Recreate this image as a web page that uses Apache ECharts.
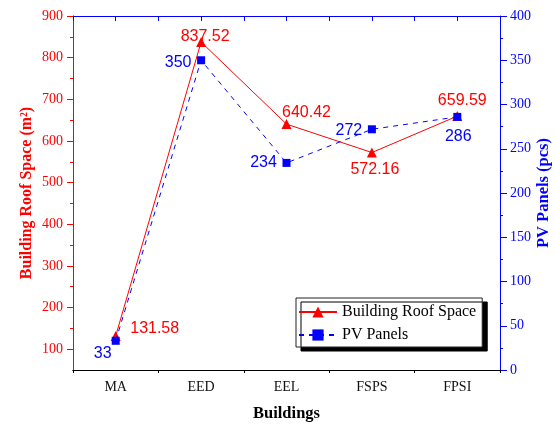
<!DOCTYPE html>
<html>
<head>
<meta charset="utf-8">
<script src="https://cdn.jsdelivr.net/npm/echarts@6/dist/echarts.min.js"></script>
<style>html,body{margin:0;padding:0;background:#fff}#c{width:555px;height:426px}</style>
</head>
<body>
<div id="c"></div>
<script>
var categories = ['MA', 'EED', 'EEL', 'FSPS', 'FPSI'];
var roofSpace = [131.58, 837.52, 640.42, 572.16, 659.59];
var pvPanels = [33, 350, 234, 272, 286];
var leftMajorTicks = [100, 200, 300, 400, 500, 600, 700, 800, 900];
var leftMinorTicks = [150, 250, 350, 450, 550, 650, 750, 850];

var RED = '#ff0000', BLUE = '#0000ff';
var SERIF = '"Liberation Serif","Times New Roman",serif';
var SANS = '"Liberation Sans",Arial,sans-serif';

var roofOffsets = [[39, -7], [4, -5], [20, -12], [3, 17], [5, -16]];
var pvOffsets = [[-13, 13], [-23, 2], [-23, 0], [-23, 1], [1, 20]];

function mkData(vals, offs) {
  return vals.map(function (v, i) {
    return { value: v, label: { offset: offs[i] } };
  });
}

var chart = echarts.init(document.getElementById('c'), null, { renderer: 'canvas' });
chart.setOption({
  animation: false,
  grid: { left: 73, right: 55, top: 16, bottom: 56, containLabel: false, outerBoundsMode: 'none' },
  legend: {
    left: 296, top: 298,
    orient: 'vertical',
    padding: [6, 6, 4, 2],
    itemGap: 7,
    itemWidth: 38,
    itemHeight: 14,
    backgroundColor: '#fff',
    borderColor: '#222',
    borderWidth: 1,
    shadowColor: '#000',
    shadowBlur: 0,
    shadowOffsetX: 5,
    shadowOffsetY: 4,
    textStyle: { fontFamily: SERIF, fontSize: 16, color: '#000' },
    data: ['Building Roof Space', 'PV Panels']
  },
  xAxis: [
    {
      type: 'category', data: categories, position: 'bottom',
      boundaryGap: true,
      name: 'Buildings', nameLocation: 'middle', nameGap: 35, nameMoveOverlap: false,
      nameTextStyle: { fontFamily: SERIF, fontSize: 16.5, fontWeight: 'bold', color: '#000' },
      axisLine: { onZero: false, lineStyle: { color: '#000', width: 1 } },
      axisTick: { alignWithLabel: true, length: 5, lineStyle: { color: '#000' } },
      axisLabel: { fontFamily: SERIF, fontSize: 14, color: '#111', margin: 10 },
      splitLine: { show: false }
    },
    {
      type: 'value', position: 'bottom', min: 0, max: 5, interval: 1,
      axisLine: { show: true, onZero: false, lineStyle: { color: '#000', width: 1 } },
      axisTick: { show: true, inside: false, length: 3, lineStyle: { color: '#000' } },
      axisLabel: { show: false },
      splitLine: { show: false }
    },
    {
      type: 'value', position: 'top', min: 0, max: 5, interval: 0.5,
      axisLine: { show: true, onZero: false, lineStyle: { color: BLUE, width: 1 } },
      axisTick: { show: true, inside: true, length: 5, lineStyle: { color: BLUE } },
      axisLabel: { show: false },
      splitLine: { show: false }
    }
  ],
  yAxis: [
    {
      type: 'value', position: 'left', min: 50, max: 900,
      name: 'Building Roof Space (m\u00b2)', nameLocation: 'middle', nameGap: 38, nameRotate: 90,
      nameMoveOverlap: false,
      nameTextStyle: { fontFamily: SERIF, fontSize: 16, fontWeight: 'bold', color: RED },
      axisLine: { show: true, onZero: false, lineStyle: { color: RED, width: 1 } },
      axisTick: { show: true, inside: false, length: 6, customValues: leftMajorTicks, lineStyle: { color: RED } },
      axisLabel: { fontFamily: SERIF, fontSize: 14, color: RED, margin: 10, customValues: leftMajorTicks },
      splitLine: { show: false }
    },
    {
      type: 'value', position: 'right', min: 0, max: 400, interval: 50,
      name: 'PV Panels (pcs)', nameLocation: 'middle', nameGap: 35, nameRotate: 90,
      nameMoveOverlap: false,
      nameTextStyle: { fontFamily: SERIF, fontSize: 16.5, fontWeight: 'bold', color: BLUE },
      axisLine: { show: true, onZero: false, lineStyle: { color: BLUE, width: 1 } },
      axisTick: { show: true, inside: false, length: 7, lineStyle: { color: BLUE } },
      minorTick: { show: true, splitNumber: 2, length: 3, lineStyle: { color: BLUE } },
      axisLabel: { fontFamily: SERIF, fontSize: 14, color: BLUE, margin: 10 },
      splitLine: { show: false }
    },
    {
      type: 'value', position: 'left', min: 50, max: 900,
      axisLine: { show: true, onZero: false, lineStyle: { color: RED, width: 1 } },
      axisTick: { show: true, inside: false, length: 3, customValues: leftMinorTicks, lineStyle: { color: RED } },
      axisLabel: { show: false, customValues: leftMinorTicks },
      splitLine: { show: false }
    }
  ],
  series: [
    {
      name: 'Building Roof Space', type: 'line', xAxisIndex: 0, yAxisIndex: 0,
      data: mkData(roofSpace, roofOffsets),
      symbol: 'triangle', symbolSize: 10,
      lineStyle: { color: RED, width: 1 },
      itemStyle: { color: RED },
      label: { show: true, position: 'inside', fontFamily: SANS, fontSize: 16, color: RED },
      z: 3
    },
    {
      name: 'PV Panels', type: 'line', xAxisIndex: 0, yAxisIndex: 1,
      data: mkData(pvPanels, pvOffsets),
      symbol: 'rect', symbolSize: 8,
      lineStyle: { color: BLUE, width: 1, type: [5, 5] },
      itemStyle: { color: BLUE },
      label: { show: true, position: 'inside', fontFamily: SANS, fontSize: 16, color: BLUE },
      z: 4
    }
  ]
});
</script>
</body>
</html>
